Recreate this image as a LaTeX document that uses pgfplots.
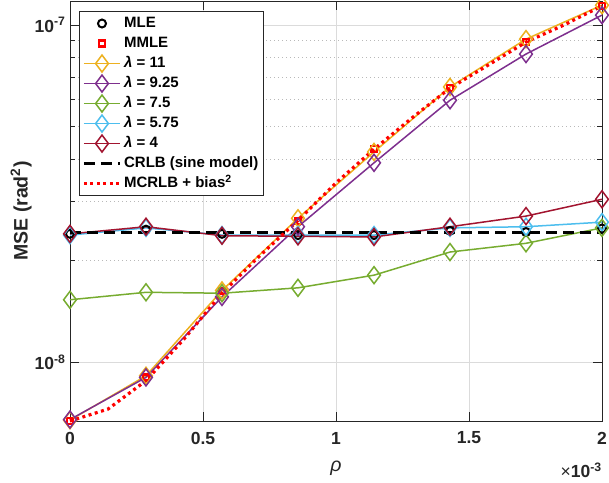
\documentclass[border=0pt]{standalone}
\usepackage{pgfplots}
\pgfplotsset{compat=1.18}
\usepackage{fontspec}
\setmainfont{Liberation Sans}
\definecolor{morange}{rgb}{0.929,0.694,0.125}
\definecolor{mpurple}{rgb}{0.494,0.184,0.556}
\definecolor{mgreen}{rgb}{0.466,0.674,0.188}
\definecolor{mblue}{rgb}{0.301,0.745,0.933}
\definecolor{mred}{rgb}{0.635,0.078,0.184}
\definecolor{axcol}{HTML}{262626}

\begin{document}
\begin{tikzpicture}
\begin{axis}[
  scale only axis, width=532pt, height=420pt,
  xmin=0, xmax=2, ymode=log, ymin=6.68e-9, ymax=1.178e-7,
  clip=false,
  xtick={0,0.5,1,1.5,2}, xticklabels={0,0.5,1,1.5,2},
  ytick={1e-8,1e-7}, yticklabels={10\textsuperscript{-8},10\textsuperscript{-7}},
  tick align=inside, major tick length=9pt, minor tick length=5pt,
  every tick/.style={axcol, line width=0.8pt},
  axis line style={axcol, line width=0.8pt},
  xmajorgrids, ymajorgrids, yminorgrids,
  major grid style={gray!28, line width=0.8pt},
  minor grid style={gray!55, line width=0.7pt, dash pattern=on 1pt off 3pt},
  ticklabel style={font=\bfseries\fontsize{17.5}{20}\selectfont, text=axcol},
  xticklabel style={anchor=center, yshift=-17pt},
  yticklabel style={anchor=east, xshift=-1pt},
  xlabel={\textit{ρ}}, ylabel={\bfseries MSE (rad\textsuperscript{2})},
  label style={font=\fontsize{19.5}{22}\selectfont, text=axcol},
  xlabel style={at={(axis description cs:0.5,-0.112)}, anchor=center},
  ylabel style={at={(axis description cs:-0.092,0.5)}, anchor=center},
  legend cell align=left,
  legend style={at={(axis description cs:0.0169,0.976)}, anchor=north west,
    draw=axcol, line width=0.8pt, fill=white,
    font=\bfseries\fontsize{15}{17}\selectfont,
    nodes={text height=11.5pt, text depth=3.5pt, inner sep=2.5pt},
    inner xsep=3pt, inner ysep=2pt},
  legend image code/.code={\draw[mark repeat=2,mark phase=2,#1] plot coordinates {(0pt,0pt) (18pt,0pt) (36pt,0pt)};},
  every axis plot/.append style={line width=1.5pt},
  dia/.style={mark=diamond, mark size=8.5pt, mark options={solid, line width=1.5pt, fill=none}},
]
\coordinate (bl) at (rel axis cs:0,0);
\coordinate (tr) at (rel axis cs:1,1);

\addplot[only marks, mark=o, mark size=4pt, black, mark options={line width=2pt}] coordinates {
(0,2.40e-8) (0.2857,2.47e-8) (0.5714,2.40e-8) (0.8571,2.38e-8) (1.1429,2.38e-8) (1.4286,2.45e-8) (1.7143,2.43e-8) (2,2.49e-8)};
\addlegendentry{MLE}
\addplot[only marks, mark=square, mark size=3pt, red, mark options={line width=2.2pt}] coordinates {
(0,6.7e-9) (0.2857,9.0e-9) (0.5714,1.62e-8) (0.8571,2.62e-8) (1.1429,4.28e-8) (1.4286,6.5e-8) (1.7143,8.9e-8) (2,1.14e-7)};
\addlegendentry{MMLE}
\addplot[morange, dia] coordinates {
(0,6.72e-9) (0.2857,9.1e-9) (0.5714,1.63e-8) (0.8571,2.67e-8) (1.1429,4.2e-8) (1.4286,6.55e-8) (1.7143,9.08e-8) (2,1.145e-7)};
\addlegendentry{\textit{λ} = 11}
\addplot[mpurple, dia] coordinates {
(0,6.75e-9) (0.2857,9.0e-9) (0.5714,1.56e-8) (0.8571,2.52e-8) (1.1429,3.9e-8) (1.4286,5.98e-8) (1.7143,8.2e-8) (2,1.07e-7)};
\addlegendentry{\textit{λ} = 9.25}
\addplot[mgreen, dia] coordinates {
(0,1.53e-8) (0.2857,1.61e-8) (0.5714,1.60e-8) (0.8571,1.66e-8) (1.1429,1.81e-8) (1.4286,2.12e-8) (1.7143,2.25e-8) (2,2.5e-8)};
\addlegendentry{\textit{λ} = 7.5}
\addplot[mblue, dia] coordinates {
(0,2.38e-8) (0.2857,2.5e-8) (0.5714,2.38e-8) (0.8571,2.38e-8) (1.1429,2.38e-8) (1.4286,2.5e-8) (1.7143,2.52e-8) (2,2.6e-8)};
\addlegendentry{\textit{λ} = 5.75}
\addplot[mred, dia] coordinates {
(0,2.40e-8) (0.2857,2.52e-8) (0.5714,2.37e-8) (0.8571,2.36e-8) (1.1429,2.35e-8) (1.4286,2.52e-8) (1.7143,2.71e-8) (2,3.04e-8)};
\addlegendentry{\textit{λ} = 4}
\addplot[black, line width=3pt, dash pattern=on 11pt off 6pt] coordinates {
(0,2.43e-8) (2,2.43e-8)};
\addlegendentry{CRLB (sine model)}
\addplot[red, line width=3.2pt, dash pattern=on 3pt off 3.5pt] coordinates {
(0,6.68e-9) (0.1429,7.25e-9) (0.2857,8.8e-9) (0.4286,1.17e-8) (0.5714,1.6e-8) (0.7143,2.07e-8) (0.8571,2.63e-8) (1.0,3.4e-8) (1.1429,4.28e-8) (1.2857,5.3e-8) (1.4286,6.5e-8) (1.5714,7.6e-8) (1.7143,8.9e-8) (1.857,1.0e-7) (2,1.14e-7)};
\addlegendentry{MCRLB + bias\textsuperscript{2}}

\node[font=\fontsize{17.5}{20}\selectfont, text=axcol, anchor=east, inner sep=0pt]
  at (axis description cs:1,-0.117) {×\textbf{10\textsuperscript{-3}}};
\end{axis}
\pgfresetboundingbox
\path[use as bounding box] ([xshift=-70pt,yshift=-61pt]bl) rectangle ([xshift=7pt,yshift=1pt]tr);
\end{tikzpicture}
\end{document}
